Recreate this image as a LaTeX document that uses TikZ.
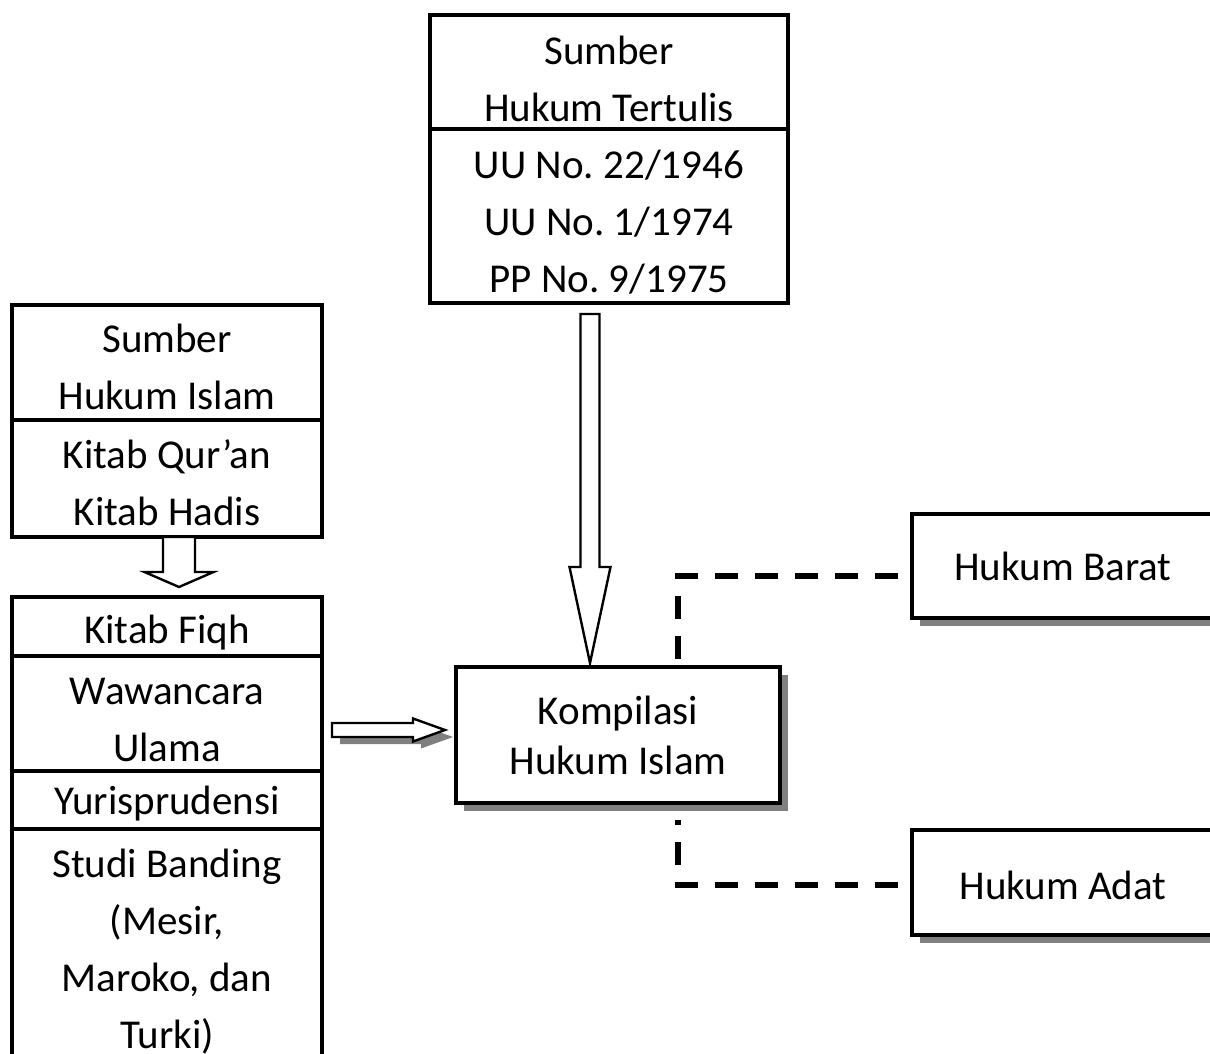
\documentclass[tikz,border=0pt]{standalone}
\usepackage{fontspec}
\setmainfont{Carlito}
\usepackage{tikz}
\usetikzlibrary{positioning,shadows,calc}
\frenchspacing
\newcommand{\topgap}[1]{\rule{0pt}{#1}}

\begin{document}
\begin{tikzpicture}[x=0.5pt,y=-0.5pt]
\tikzstyle{cell}=[rectangle, draw=black, line width=1.6pt, fill=white, outer sep=0pt, inner sep=0pt, align=center, font=\fontsize{20.5}{28.5}\selectfont]
\tikzstyle{shadowed}=[cell, drop shadow={shadow xshift=4pt, shadow yshift=-4pt, fill=black!50, opacity=1}]
\tikzstyle{hollow}=[draw=black, line width=1.2pt, fill=white, line join=miter]
\tikzstyle{dashconn}=[line width=2.75pt, dash pattern=on 11.5pt off 8.5pt]
\clip (0,0) rectangle (1210,1054);
	\node[cell, minimum width=179pt, minimum height=57pt] (top_1) at (609,72) {\topgap{21pt}Sumber\\Hukum Tertulis};
	\node[cell, minimum width=179pt, minimum height=87pt, below=0pt of top_1] (top_2) {\topgap{20pt}UU No. 22/1946\\UU No. 1/1974\\PP No. 9/1975};

	\node[cell, minimum width=155pt, minimum height=57.5pt] (isl_1) at (167,362.5) {\topgap{18.5pt}Sumber\\Hukum Islam};
	\node[cell, minimum width=155pt, minimum height=58.5pt, below=0pt of isl_1] (isl_2) {\topgap{18.5pt}Kitab Qur’an\\Kitab Hadis};

	\node[cell, minimum width=155pt, minimum height=29.5pt] (src_1) at (167,626.5) {\topgap{20pt}Kitab Fiqh};
	\node[cell, minimum width=155pt, minimum height=57.5pt, below=0pt of src_1] (src_2) {\topgap{19.5pt}Wawancara\\Ulama};
	\node[cell, minimum width=155pt, minimum height=29pt, below=0pt of src_2] (src_3) {\topgap{17.5pt}Yurisprudensi};
	\node[cell, minimum width=155pt, minimum height=123pt, below=0pt of src_3] (src_4) {Studi Banding\\(Mesir,\\Maroko, dan\\Turki)};

	\node[shadowed, minimum width=162pt, minimum height=68pt, font=\fontsize{20.5}{25}\selectfont] (khi) at (618,735) {Kompilasi\\Hukum Islam};
	\node[shadowed, minimum width=151pt, minimum height=52pt] (barat) at (1063,566) {Hukum Barat};
	\node[shadowed, minimum width=151pt, minimum height=52.5pt] (adat) at (1063,882.5) {\topgap{17.5pt}Hukum Adat};

	\coordinate (a_top) at ($(top_2.south)+(-19,11)$);
	\coordinate (a_tip) at ($(khi.north)+(-28,-4)$);
	\draw[hollow] ($(a_top)+(-9.5,0)$) -- ($(a_top)+(9.5,0)$) -- ($(a_tip)+(9.5,-96)$) -- ($(a_tip)+(20.5,-96)$)
		-- (a_tip) -- ($(a_tip)+(-20.5,-96)$) -- ($(a_tip)+(-9.5,-96)$) -- cycle;

	\coordinate (b_top) at ($(isl_2.south)+(12,0)$);
	\coordinate (b_tip) at ($(src_1.north)+(12,-10)$);
	\draw[hollow] ($(b_top)+(-16,0)$) -- ($(b_top)+(16,0)$) -- ($(b_tip)+(16,-15)$) -- ($(b_tip)+(34.5,-15)$)
		-- (b_tip) -- ($(b_tip)+(-34.5,-15)$) -- ($(b_tip)+(-16,-15)$) -- cycle;

	\coordinate (c_tail) at ($(src_2.east)+(10,16.5)$);
	\coordinate (c_tip) at ($(khi.west)+(-11,-5)$);
	\path[hollow, drop shadow={shadow xshift=4pt, shadow yshift=-3.5pt, fill=black!50, opacity=1}]
		($(c_tail)+(0,-7)$) -- ($(c_tip)+(-32,-7)$) -- ($(c_tip)+(-32,-11.5)$) -- (c_tip)
		-- ($(c_tip)+(-32,11.5)$) -- ($(c_tip)+(-32,7)$) -- ($(c_tail)+(0,7)$) -- cycle;

	\draw[dashconn] ($(barat.west)+(-14,10)$) -| ($(khi.north)+(60,0)$);
	\draw[dashconn] ($(adat.west)+(-14,2.5)$) -| ($(khi.south)+(60,17)$);
\end{tikzpicture}
\end{document}
